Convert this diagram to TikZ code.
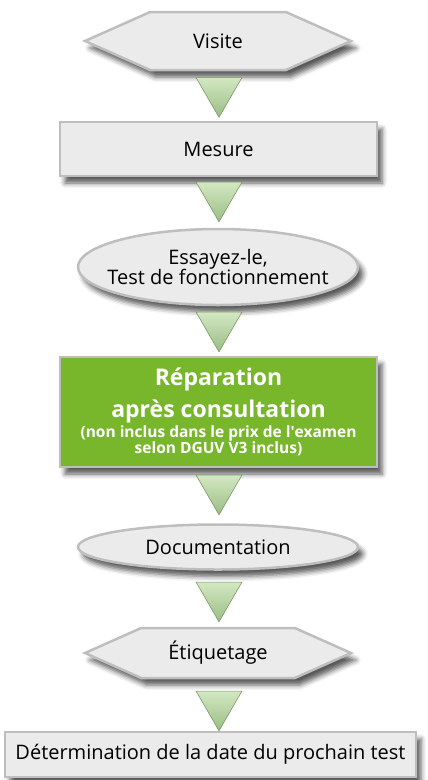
\documentclass[tikz,border=0pt]{standalone}
\usepackage{fontspec}
\setmainfont{Open Sans}
\usetikzlibrary{shapes.geometric,shapes.symbols,shadows.blur}

\definecolor{boxgray}{HTML}{EBEBEB}
\definecolor{linegray}{HTML}{BEBEBE}
\definecolor{repgreen}{HTML}{78B72B}
\definecolor{triglight}{HTML}{D3E8C2}
\definecolor{trigdark}{HTML}{9BBD84}
\definecolor{trigedge}{HTML}{7A9868}

\tikzset{
  base/.style={draw=linegray, line width=2.5pt, fill=boxgray, inner sep=0pt,
    font=\fontsize{20}{22}\selectfont, align=center,
    blur shadow={shadow xshift=5pt, shadow yshift=-7pt, shadow blur radius=5pt, shadow opacity=65}},
  hexa/.style={base, signal, signal to=west and east, signal pointer angle=48},
  rect/.style={base, rectangle},
  oval/.style={base, ellipse, inner xsep=-25pt},
  greenbox/.style={rect, fill=repgreen, text=white, font=\fontsize{20}{22}\selectfont\bfseries},
  fleche/.style={regular polygon, regular polygon sides=3, shape border rotate=180,
    minimum size=53pt, inner sep=0pt, draw=trigedge, line width=0.6pt,
    top color=triglight, bottom color=trigdark}
}

\begin{document}
\begin{tikzpicture}[x=1pt, y=-1pt]
        \useasboundingbox (0,0) rectangle (428,780);
        \node[hexa, minimum width=266pt, minimum height=58pt] (visite) at (218,41) {Visite};
        \node[rect, minimum width=317pt, minimum height=54pt] (mesure) at (218.5,149) {Mesure};
        \node[oval, minimum width=280pt, minimum height=76pt] (essai) at (218,267) {Essayez-le,\\[-2pt]Test de fonctionnement};
        \node[greenbox, minimum width=317pt, minimum height=110pt] (reparation) at (218.5,412)
          {\fontsize{23}{22}\selectfont R\'eparation\\[8pt]
           \fontsize{23}{22}\selectfont apr\`es consultation\\[-2pt]
           \fontsize{15.5}{22}\selectfont (non inclus dans le prix de l\textquotesingle examen\\[-6pt]
           \fontsize{15.5}{22}\selectfont selon DGUV V3 inclus)};
        \node[oval, minimum width=280pt, minimum height=45pt] (doc) at (218,547) {Documentation};
        \node[hexa, minimum width=266pt, minimum height=50pt] (etiq) at (218,653) {\'Etiquetage};
        \node[rect, minimum width=411pt, minimum height=45pt] (date) at (210.5,754.5) {D\'etermination de la date du prochain test};
        \node[fleche] (f1) at (219,90.8) {};
        \node[fleche] (f2) at (219,195.3) {};
        \node[fleche] (f3) at (219,325.3) {};
        \node[fleche] (f4) at (219,488.3) {};
        \node[fleche] (f5) at (219,595.3) {};
        \node[fleche] (f6) at (219,704.3) {};
\end{tikzpicture}
\end{document}
